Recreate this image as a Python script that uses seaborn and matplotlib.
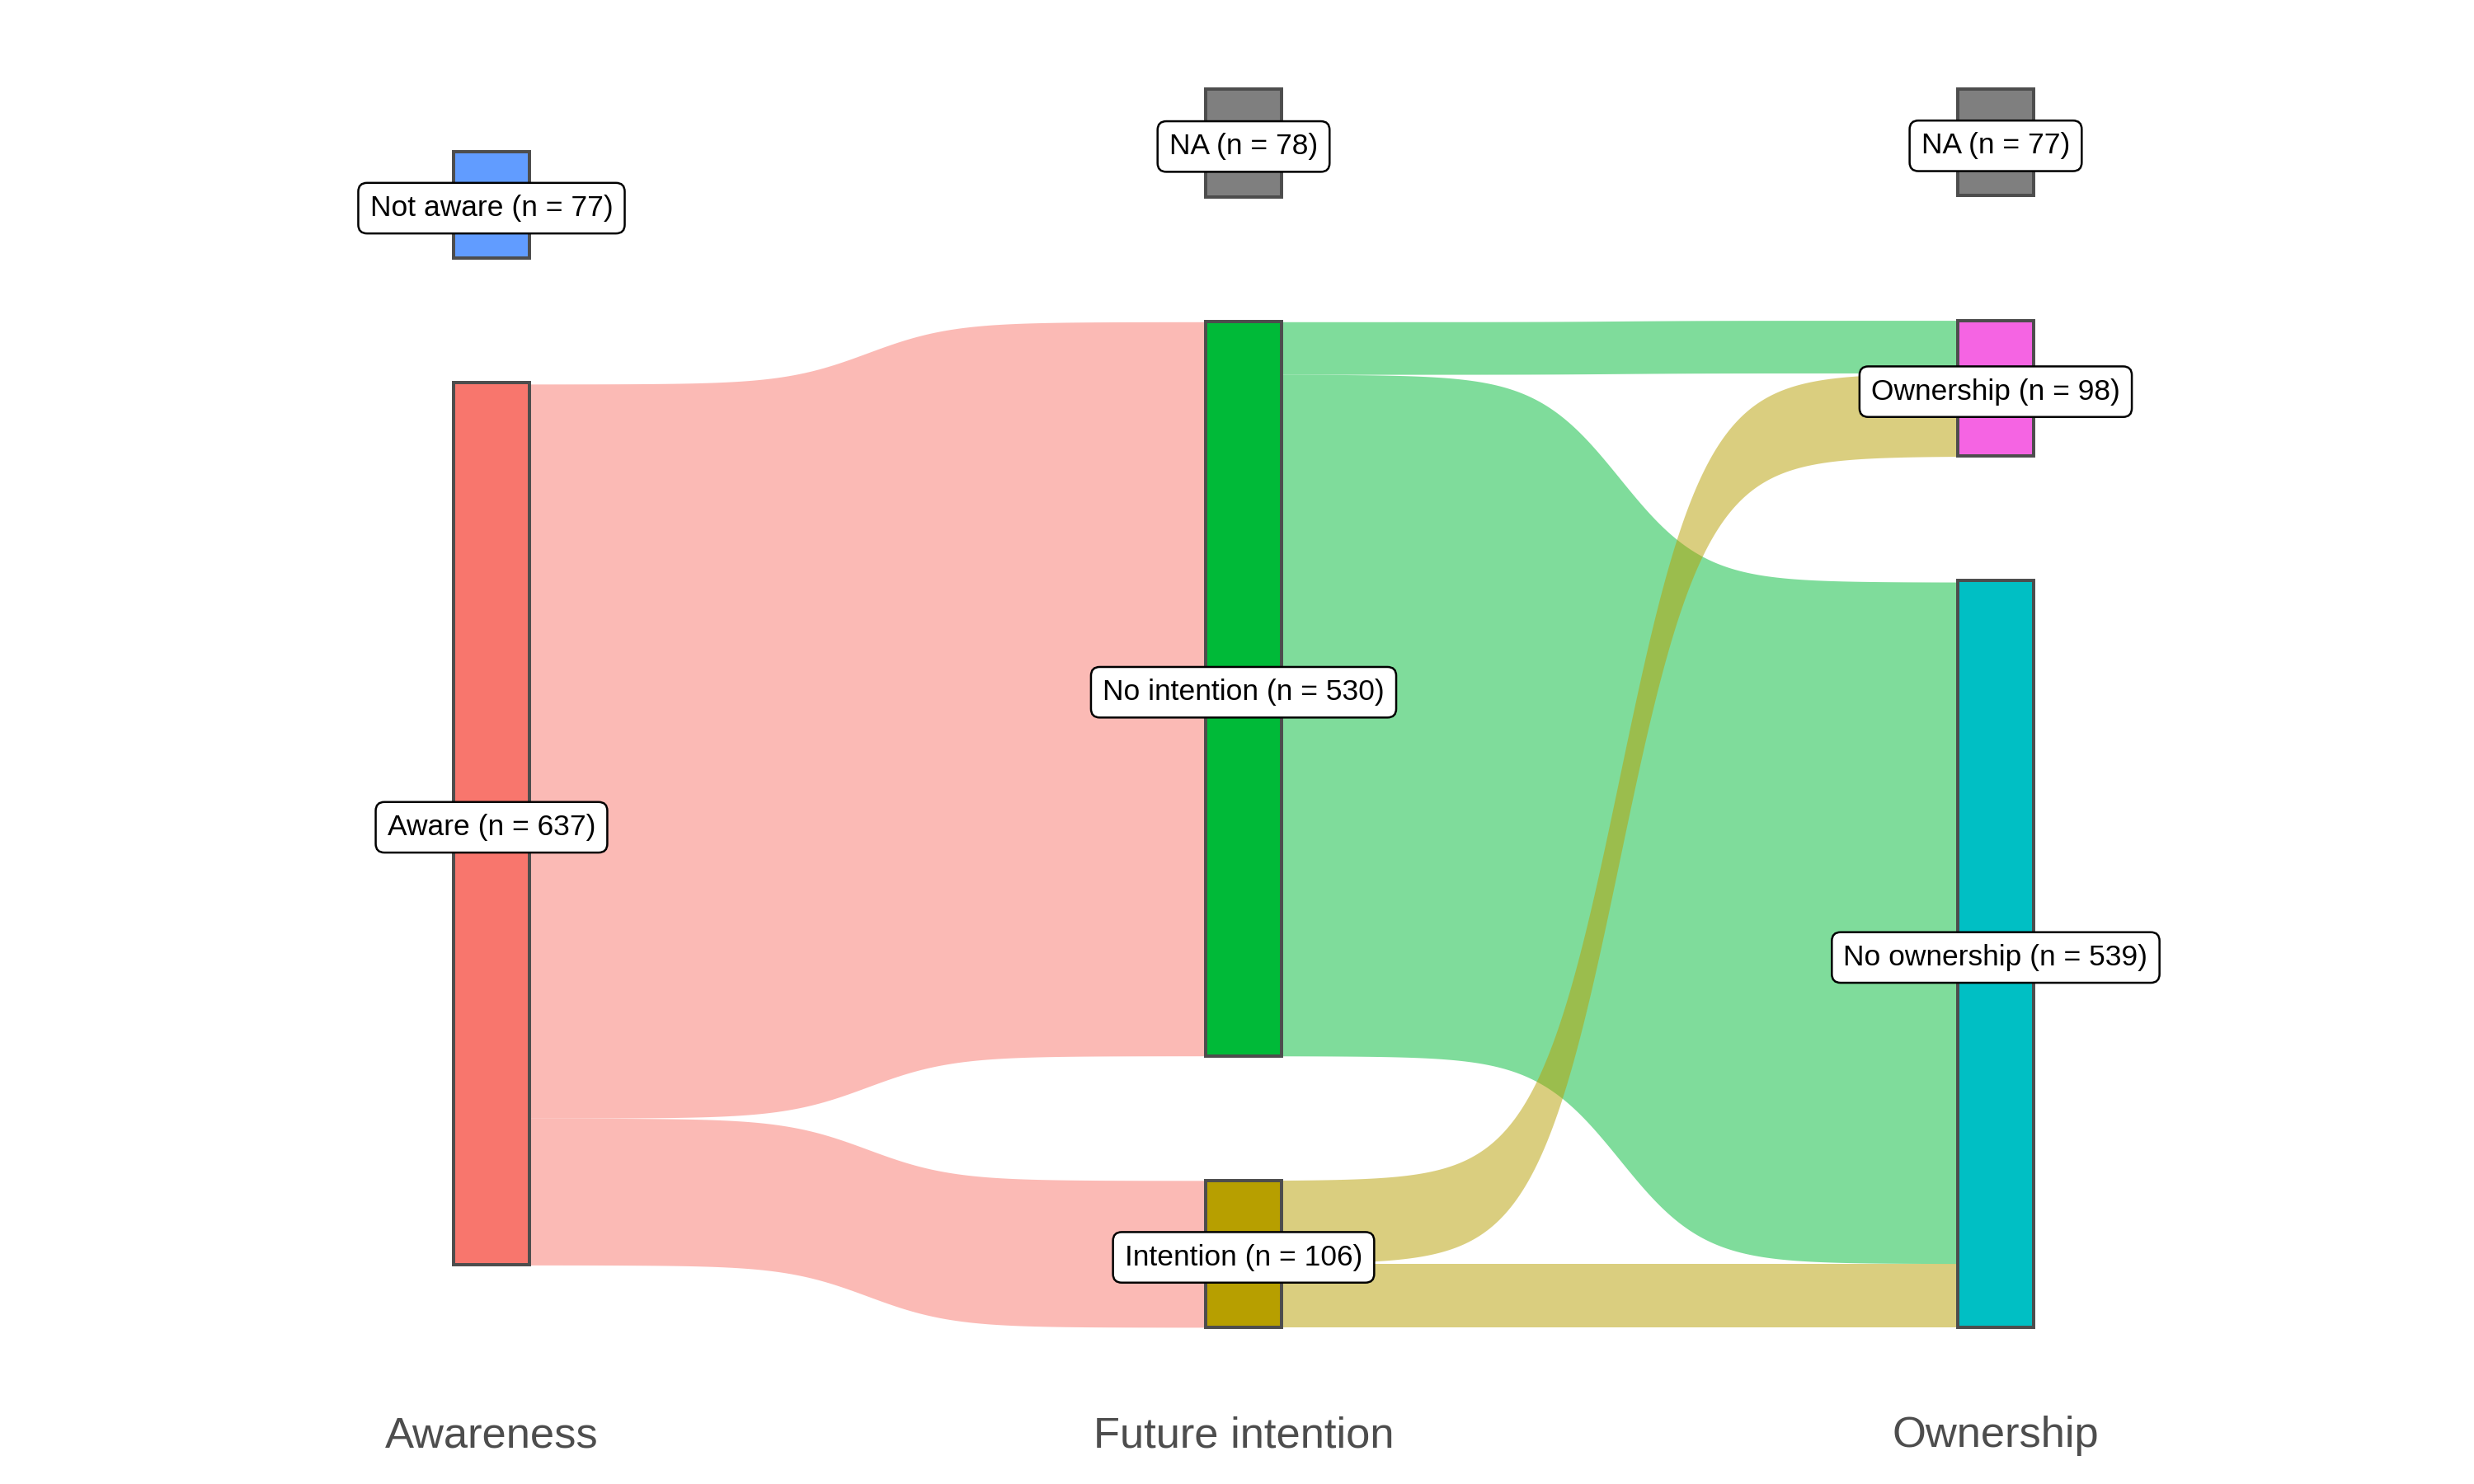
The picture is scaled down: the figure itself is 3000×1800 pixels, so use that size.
"""
Sankey: awareness -> future intention -> ownership
"""
import numpy as np
import matplotlib.pyplot as plt
import seaborn as sns

sns.set_style("white")
plt.rcParams['font.family'] = ['Liberation Sans', 'DejaVu Sans']

# Columns (stages)
stages = ["Awareness", "Future intention", "Ownership"]

# Nodes per stage, listed top to bottom, with counts
awareness_nodes = ["Not aware", "Aware"]
awareness_n = [77, 637]
intention_nodes = ["NA", "No intention", "Intention"]
intention_n = [78, 530, 106]
ownership_nodes = ["NA", "Ownership", "No ownership"]
ownership_n = [77, 98, 539]

# Flows stage 1 -> 2
flow1_from = ["Not aware", "Aware", "Aware", "Aware"]
flow1_to = ["NA", "NA", "No intention", "Intention"]
flow1_n = [77, 1, 530, 106]

# Flows stage 2 -> 3
flow2_from = ["NA", "NA", "No intention", "No intention", "Intention", "Intention"]
flow2_to = ["NA", "No ownership", "Ownership", "No ownership", "Ownership", "No ownership"]
flow2_n = [77, 1, 38, 492, 60, 46]

# ggplot default hue colours
node_colors = {
    "Aware": "#F8766D",
    "Intention": "#B79F00",
    "No intention": "#00BA38",
    "No ownership": "#00BFC4",
    "Not aware": "#619CFF",
    "Ownership": "#F564E3",
    "NA": "#7F7F7F",
}

GAP = 90
NODE_W = 0.1
columns = [(awareness_nodes, awareness_n), (intention_nodes, intention_n), (ownership_nodes, ownership_n)]

# node extents (top, bottom) per column, column centred on 0
node_pos = []
for names, counts in columns:
    total = sum(counts) + GAP * (len(counts) - 1)
    top = total / 2
    pos = {}
    for name, n in zip(names, counts):
        pos[name] = [top, top - n]
        top = top - n - GAP
    node_pos.append(pos)


def sigmoid_band(ax, x0, x1, y0_top, y1_top, h, color):
    t = np.linspace(-8, 8, 300)
    s = np.exp(t) / (np.exp(t) + 1)
    xs = x0 + (t + 8) / 16 * (x1 - x0)
    top = y0_top + (y1_top - y0_top) * s
    ax.fill_between(xs, top, top - h, color=color, alpha=0.5, linewidth=0, zorder=1)


fig = plt.figure(figsize=(10, 6), dpi=300)
ax = fig.add_axes([0, 110 / 1800, 1, 1 - 110 / 1800])

flows = [(flow1_from, flow1_to, flow1_n), (flow2_from, flow2_to, flow2_n)]
for k, (f_from, f_to, f_n) in enumerate(flows):
    left, right = node_pos[k], node_pos[k + 1]
    out_off = {name: 0 for name in left}
    in_off = {name: 0 for name in right}
    for src, dst, n in zip(f_from, f_to, f_n):
        y0 = left[src][0] - out_off[src]
        y1 = right[dst][0] - in_off[dst]
        out_off[src] += n
        in_off[dst] += n
        # flows touching NA are not shown
        if src == "NA" or dst == "NA":
            continue
        sigmoid_band(ax, k + 1 + NODE_W / 2, k + 2 - NODE_W / 2, y0, y1, n, node_colors[src])

# nodes and labels
for k, (names, counts) in enumerate(columns):
    for name, n in zip(names, counts):
        top, bottom = node_pos[k][name]
        ax.bar(k + 1, n, bottom=bottom, width=NODE_W, color=node_colors[name],
               edgecolor="#4D4D4D", linewidth=0.95, zorder=3)
        ax.annotate(f"{name} (n = {n})", (k + 1, (top + bottom) / 2),
                    xytext=(0, -1.0), textcoords="offset points",
                    ha="center", va="center", fontsize=8.5, color="black", zorder=4,
                    bbox=dict(boxstyle="round,pad=0.4,rounding_size=0.3", fc="white",
                              ec="black", lw=0.6))

ax.set_xlim(0.3465, 3.636)
ax.set_ylim(-(1690 - 859) / 1.68, 859 / 1.68)
ax.set_xticks([1, 2, 3])
ax.set_xticklabels(stages, fontsize=12.6, color="#4D4D4D")
ax.tick_params(axis="x", length=0, pad=6.5)
ax.set_yticks([])
for sp in ax.spines.values():
    sp.set_visible(False)
ax.set_facecolor("white")

fig.savefig("out.png", dpi=300, facecolor="white")
plt.close()
